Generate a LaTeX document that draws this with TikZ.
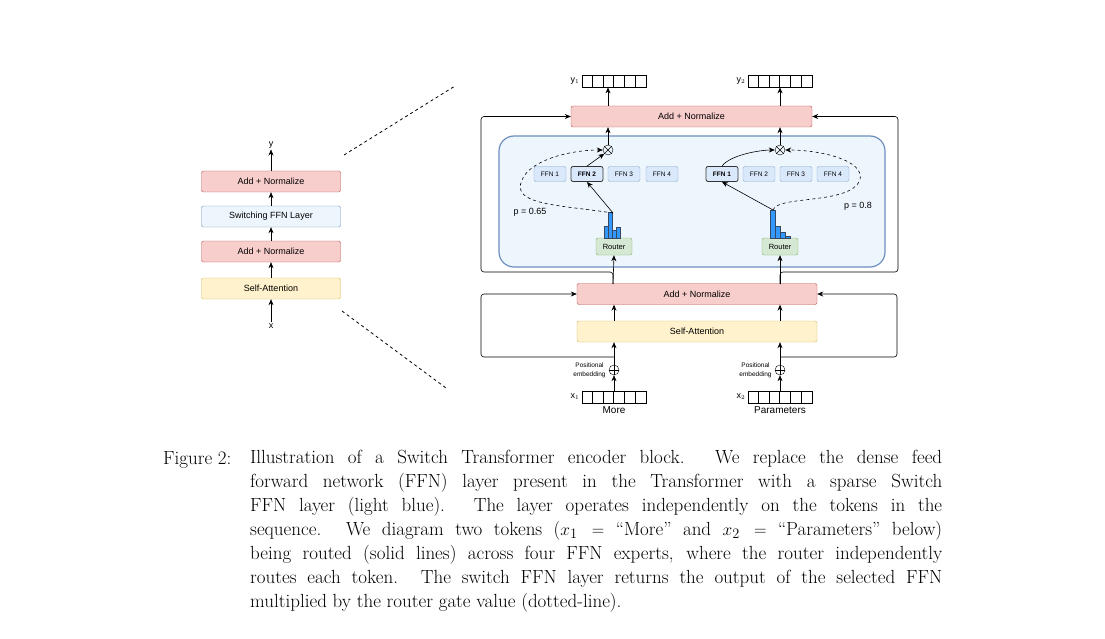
\documentclass[tikz,border=0pt]{standalone}
\usepackage{fontspec}
\setsansfont{Liberation Sans}
\usetikzlibrary{positioning,arrows.meta,calc}
\definecolor{NormRed}{HTML}{F8CECC}
\definecolor{NormEdge}{HTML}{B85450}
\definecolor{FfnBlue}{HTML}{DAE8FC}
\definecolor{FfnEdge}{HTML}{6C8EBF}
\definecolor{LayerBlue}{HTML}{EEF6FD}
\definecolor{AttnYellow}{HTML}{FFF2CC}
\definecolor{AttnEdge}{HTML}{D6B656}
\definecolor{RouteGreen}{HTML}{D5E8D4}
\definecolor{RouteEdge}{HTML}{82B366}
\definecolor{BarBlue}{HTML}{3399FF}
\tikzstyle{norm-box}=[draw=NormEdge, fill=NormRed, rounded corners=2pt, minimum height=21pt, font=\sffamily\fontsize{9}{10}\selectfont]
\tikzstyle{attn-box}=[draw=AttnEdge, fill=AttnYellow, rounded corners=2pt, minimum height=21pt, font=\sffamily\fontsize{9}{10}\selectfont]
\tikzstyle{layer-box}=[draw=FfnEdge, fill=LayerBlue, rounded corners=2pt, minimum height=21pt, font=\sffamily\fontsize{9}{10}\selectfont]
\tikzstyle{ffn-box}=[draw=FfnEdge!80, fill=FfnBlue, rounded corners=2pt, minimum width=32pt, minimum height=15pt, font=\sffamily\fontsize{6.5}{7}\selectfont]
\tikzstyle{ffn-sel}=[ffn-box, draw=black!80, thick, font=\sffamily\bfseries\fontsize{6.5}{7}\selectfont]
\tikzstyle{router-box}=[draw=RouteEdge, fill=RouteGreen, rounded corners=2pt, minimum width=36pt, minimum height=17pt, font=\sffamily\fontsize{7.5}{8}\selectfont]
\tikzstyle{vec-box}=[draw, thick, minimum width=64pt, minimum height=12pt, inner sep=0pt]
\tikzstyle{op-circ}=[draw, circle, minimum size=10pt, inner sep=0pt]
\tikzstyle{lbl}=[font=\sffamily\fontsize{9}{10}\selectfont, inner sep=1pt]
\tikzstyle{arr}=[-{Stealth[length=6pt,width=5pt]}, semithick]
\newcommand{\cells}[1]{\foreach \i in {1,...,5}
  {\draw[thick] ($(#1.west)+(\i*64/6,-6)$) -- ++(0,12);}}
\begin{document}
\begin{tikzpicture}[x=1pt, y=-1pt]
\useasboundingbox (0,0) rectangle (1105,639);

% left overview
\node (lnorm2) at (271,181.5) [norm-box, minimum width=139pt] {Add + Normalize};
\node (lswitch) at (271,216.5) [layer-box, minimum width=139pt] {Switching FFN Layer};
\node (lnorm1) at (271,251.5) [norm-box, minimum width=139pt] {Add + Normalize};
\node (lattn) at (271,288.5) [attn-box, minimum width=139pt] {Self-Attention};
\node (ly) at (271,145) [lbl] {y};
\node (lx) at (271,326) [lbl] {x};
\draw[arr] (lx) -- (lattn);
\draw[arr] (lattn) -- (lnorm1);
\draw[arr] (lnorm1) -- (lswitch);
\draw[arr] (lswitch) -- (lnorm2);
\draw[arr] (lnorm2) -- (ly);
\coordinate (zoom-a) at (344,155);
\coordinate (zoom-b) at (455,86);
\coordinate (zoom-c) at (342,311);
\coordinate (zoom-d) at (446,388);
\draw[thick, dashed] (zoom-a) -- (zoom-b);
\draw[thick, dashed] (zoom-c) -- (zoom-d);

% switch layer
\node (layer) at (692,201.5) [draw=FfnEdge, very thick, fill=LayerBlue, rounded corners=15pt,
      minimum width=386pt, minimum height=131pt] {};
\node (rnorm2) at (691.5,116.5) [norm-box, minimum width=241pt] {Add + Normalize};
\node (rnorm1) at (697,294) [norm-box, minimum width=240pt] {Add + Normalize};
\node (rattn) at (697,331.5) [attn-box, minimum width=240pt] {Self-Attention};

\node (ffn1a) at (550,174) [ffn-box] {FFN 1};
\node (ffn2a) at (587,174) [ffn-sel] {FFN 2};
\node (ffn3a) at (624,174) [ffn-box] {FFN 3};
\node (ffn4a) at (662,174) [ffn-box] {FFN 4};
\node (ffn1b) at (722,174) [ffn-sel] {FFN 1};
\node (ffn2b) at (759,174) [ffn-box] {FFN 2};
\node (ffn3b) at (796,174) [ffn-box] {FFN 3};
\node (ffn4b) at (833,174) [ffn-box] {FFN 4};

\node (router1) at (614,246.5) [router-box] {Router};
\node (router2) at (780,246.5) [router-box] {Router};
\node (mul1) at (608,150) [op-circ] {};
\node (mul2) at (780,150) [op-circ] {};
\draw (mul1.north west) -- (mul1.south east) (mul1.north east) -- (mul1.south west);
\draw (mul2.north west) -- (mul2.south east) (mul2.north east) -- (mul2.south west);

% router histograms
\fill[BarBlue, draw=FfnEdge!50!black, very thin] (604,238) rectangle (608,226) (608,238) rectangle (612,212)
      (612,238) rectangle (616,230) (616,238) rectangle (620,227);
\fill[BarBlue, draw=FfnEdge!50!black, very thin] (770,238) rectangle (775,210) (775,238) rectangle (780,226)
      (780,238) rectangle (785,232) (785,238) rectangle (790,236);
\coordinate (hist1) at (613,213);
\coordinate (hist2) at (773,210);

\draw[arr] (hist1) -- (ffn2a.south);
\draw[arr] (ffn2a.north) -- (mul1.south west);
\draw[arr, dashed] (hist1) .. controls (560,205) and (510,205) .. (522,180)
      .. controls (530,160) and (570,150) .. (mul1.west);
\node (p1) at (530,212) [lbl] {p = 0.65};
\draw[arr] (hist2) -- (ffn1b.south);
\draw[arr] (ffn1b.north) .. controls (730,155) and (760,150) .. (mul2.west);
\draw[arr, dashed] (hist2) .. controls (778,195) and (850,205) .. (860,180)
      .. controls (865,160) and (820,150) .. (mul2.east);
\node (p2) at (858,206) [lbl] {p = 0.8};

\draw[arr] (mul1) -- (mul1 |- rnorm2.south);
\draw[arr] (mul2) -- (mul2 |- rnorm2.south);

% outputs
\node (y1) at (614,81) [vec-box] {};
\node (y2) at (780,81) [vec-box] {};
\cells{y1} \cells{y2}
\node (y1lbl) [lbl, left=1pt of y1] {y$_1$};
\node (y2lbl) [lbl, left=1pt of y2] {y$_2$};
\draw[arr] (rnorm2.north -| mul1) -- (y1.south -| mul1);
\draw[arr] (rnorm2.north -| mul2) -- (y2.south -| mul2);

% residual to top
\coordinate (res1) at (613,284);
\coordinate (res2) at (780,284);
\draw[arr, rounded corners=3pt] (res1) -- (613,272) -- (481,272) -- (481,116.5) -- (rnorm2.west);
\draw[arr, rounded corners=3pt] (res2) -- (780,272) -- (898,272) -- (898,116.5) -- (rnorm2.east);
\draw[arr] (res1) -- (router1.south);
\draw[arr] (res2) -- (router2.south);

% inputs
\node (x1) at (614,397) [vec-box] {};
\node (x2) at (780,397) [vec-box] {};
\cells{x1} \cells{x2}
\node (x1lbl) [lbl, left=1pt of x1] {x$_1$};
\node (x2lbl) [lbl, left=1pt of x2] {x$_2$};
\node (word1) [lbl, below=2pt of x1, font=\sffamily\fontsize{10}{11}\selectfont] {More};
\node (word2) [lbl, below=2pt of x2, font=\sffamily\fontsize{10}{11}\selectfont] {Parameters};
\node (add1) at (614,370) [op-circ] {};
\node (add2) at (780,370) [op-circ] {};
\draw (add1.north) -- (add1.south) (add1.west) -- (add1.east);
\draw (add2.north) -- (add2.south) (add2.west) -- (add2.east);
\node (pos1) [left=3pt of add1, align=center, font=\sffamily\fontsize{6.5}{9}\selectfont, inner sep=0pt] {Positional\\embedding};
\node (pos2) [left=3pt of add2, align=center, font=\sffamily\fontsize{6.5}{9}\selectfont, inner sep=0pt] {Positional\\embedding};
\draw[arr] (x1) -- (add1);
\draw[arr] (x2) -- (add2);
\draw[arr] (add1) -- (add1 |- rattn.south);
\draw[arr] (add2) -- (add2 |- rattn.south);
\draw[arr] (rattn.north -| add1) -- (rnorm1.south -| add1);
\draw[arr] (rattn.north -| add2) -- (rnorm1.south -| add2);
\draw[arr, rounded corners=3pt] (614,357) -- (481,357) -- (481,294) -- (rnorm1.west);
\draw[arr, rounded corners=3pt] (780,357) -- (897,357) -- (897,294) -- (rnorm1.east);

% caption
\node (fig) at (163,464) [anchor=base west, inner sep=0pt, font=\fontsize{19}{24}\selectfont] {Figure 2:};
\node (caption) at (250,464) [anchor=north west, yshift=14pt, inner sep=0pt, align=left, font=\fontsize{19}{24}\selectfont]
{\makebox[692pt][s]{Illustration of a Switch Transformer encoder block. We replace the dense feed}\\
 \makebox[692pt][s]{forward network (FFN) layer present in the Transformer with a sparse Switch}\\
 \makebox[692pt][s]{FFN layer (light blue). The layer operates independently on the tokens in the}\\
 \makebox[692pt][s]{sequence. We diagram two tokens ($x_1 =$ ``More'' and $x_2 =$ ``Parameters'' below)}\\
 \makebox[692pt][s]{being routed (solid lines) across four FFN experts, where the router independently}\\
 \makebox[692pt][s]{routes each token. The switch FFN layer returns the output of the selected FFN}\\
 multiplied by the router gate value (dotted-line).};
\end{tikzpicture}
\end{document}
